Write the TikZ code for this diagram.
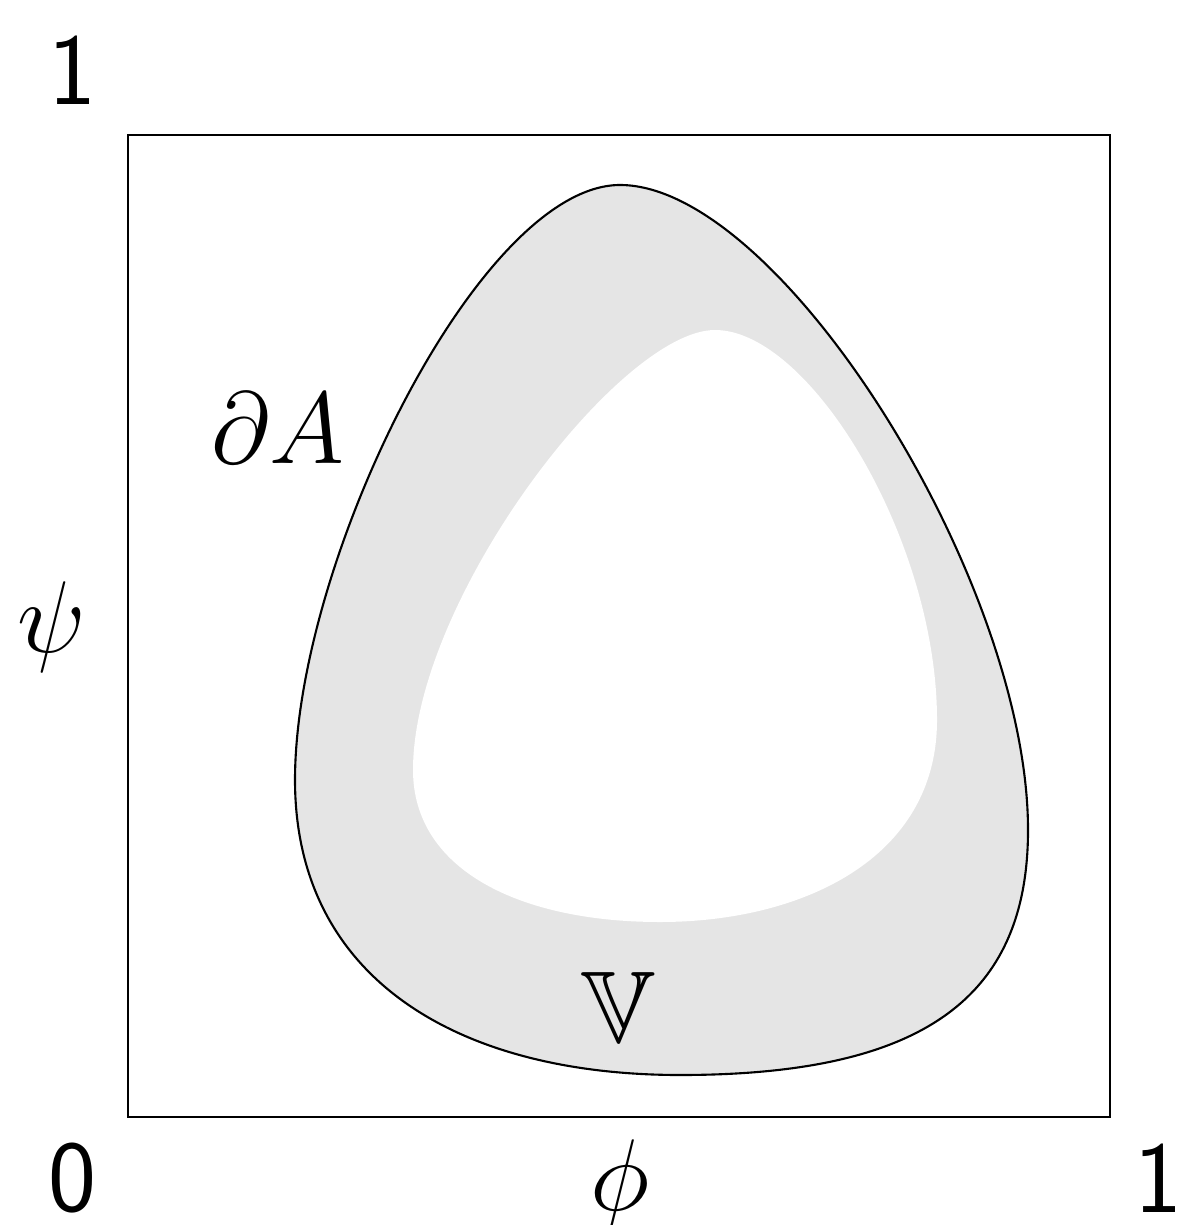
\RequirePackage{fix-cm}
\documentclass[tikz,border=0pt]{standalone}
\usepackage{amsmath,amssymb}
\usepackage{xcolor}
\usepackage{tikz}
\usetikzlibrary{positioning,calc}

\begin{document}
\begin{tikzpicture}[
  x=0.01cm, y=-0.01cm,
  lab/.style={font=\fontsize{29}{35}\selectfont, inner sep=0pt},
  frame/.style={draw, line width=0.4pt},
  bnd/.style={draw, line width=0.6pt, fill=black!10}]
  \useasboundingbox (0,0) rectangle (1180,1225);
  % unit square
  \draw[frame] (128,135) rectangle (1110,1117);
  % outer boundary and the white hole
  \path[bnd] (620,185) .. controls (780,185) and (1028,580) .. (1028,830)
    .. controls (1028,1000) and (920,1075) .. (680,1075)
    .. controls (460,1075) and (295,980) .. (295,780)
    .. controls (295,560) and (480,185) .. (620,185) -- cycle;
  \fill[white] (715,330) .. controls (810,330) and (937,540) .. (937,720)
    .. controls (937,860) and (800,922) .. (660,922)
    .. controls (520,922) and (413,870) .. (413,770)
    .. controls (413,600) and (620,330) .. (715,330) -- cycle;
  % labels
  \node[lab] (ytop) at (72,70) {\sffamily 1};
  \node[lab] (orig) at (72,1178) {\sffamily 0};
  \node[lab] (xend) at (1158,1178) {\sffamily 1};
  \node[lab] (psi) at (52,627) {$\psi$};
  \node[lab] (phi) at (620,1185) {$\phi$};
  \node[lab] (bdry) at (278,428) {$\partial A$};
  \node[lab] (vset) at (618,1007) {$\mathbb{V}$};
\end{tikzpicture}
\end{document}
